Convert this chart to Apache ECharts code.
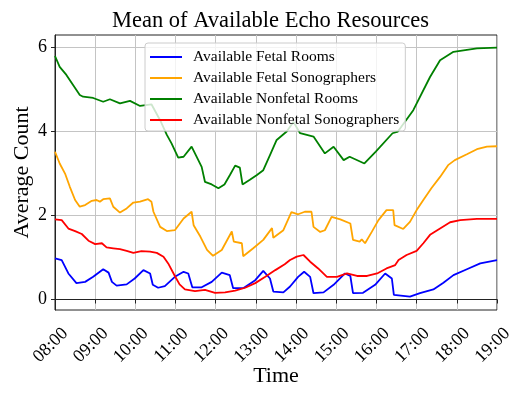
<!DOCTYPE html>
<html>
<head>
<meta charset="utf-8">
<script src="https://cdn.jsdelivr.net/npm/echarts@6/dist/echarts.min.js"></script>
<style>
  html, body { margin: 0; padding: 0; background: #fff; }
  #chart { width: 531px; height: 399px; }
</style>
</head>
<body>
<div id="chart"></div>
<script>
// minutes after 08:00
const hourTicks = [0, 60, 120, 180, 240, 300, 360, 420, 480, 540, 600, 660];
const yTicks = [0, 2, 4, 6];

const fetalRoomsTime = [0, 10, 20, 32, 45, 57, 72, 80, 85, 92, 107, 119, 132, 142, 146, 154, 164, 179, 192, 199, 205, 219, 234, 249, 261, 266, 281, 299, 311, 321, 326, 341, 351, 363, 372, 381, 386, 401, 416, 433, 441, 445, 460, 478, 493, 503, 506, 530, 545, 565, 580, 595, 615, 635, 660];
const fetalRooms = [0.98, 0.94, 0.62, 0.39, 0.42, 0.54, 0.72, 0.64, 0.42, 0.33, 0.36, 0.50, 0.70, 0.62, 0.35, 0.28, 0.32, 0.54, 0.66, 0.62, 0.29, 0.29, 0.42, 0.64, 0.58, 0.27, 0.27, 0.46, 0.68, 0.50, 0.19, 0.17, 0.31, 0.54, 0.66, 0.54, 0.15, 0.17, 0.35, 0.62, 0.56, 0.15, 0.16, 0.35, 0.62, 0.50, 0.11, 0.07, 0.15, 0.24, 0.40, 0.58, 0.72, 0.86, 0.94];

const fetalSonoTime = [0, 7, 15, 22, 30, 37, 45, 55, 62, 67, 72, 82, 87, 97, 107, 117, 127, 139, 144, 147, 157, 167, 179, 192, 204, 207, 217, 227, 236, 249, 264, 266, 267, 279, 281, 296, 311, 324, 326, 341, 353, 363, 373, 383, 386, 396, 403, 413, 426, 441, 445, 455, 458, 463, 473, 483, 495, 505, 507, 520, 530, 540, 550, 562, 575, 587, 597, 615, 630, 645, 660];
const fetalSono = [3.52, 3.24, 3.00, 2.69, 2.37, 2.21, 2.25, 2.35, 2.37, 2.33, 2.39, 2.41, 2.21, 2.07, 2.17, 2.31, 2.33, 2.39, 2.33, 2.09, 1.73, 1.63, 1.65, 1.93, 2.09, 1.77, 1.50, 1.18, 1.04, 1.18, 1.62, 1.66, 1.38, 1.34, 1.03, 1.22, 1.42, 1.70, 1.47, 1.65, 2.08, 2.03, 2.09, 2.09, 1.73, 1.61, 1.65, 1.97, 1.91, 1.81, 1.42, 1.38, 1.43, 1.34, 1.61, 1.89, 2.13, 2.13, 1.77, 1.68, 1.85, 2.13, 2.37, 2.65, 2.92, 3.20, 3.32, 3.46, 3.58, 3.64, 3.65];

const nonfetalRoomsTime = [0, 7, 17, 27, 37, 42, 57, 72, 82, 97, 112, 127, 144, 157, 167, 174, 184, 192, 204, 209, 219, 224, 234, 244, 253, 261, 269, 276, 280, 291, 301, 311, 321, 331, 346, 356, 366, 386, 403, 416, 431, 440, 462, 479, 504, 512, 535, 560, 575, 595, 630, 660];
const nonfetalRooms = [5.80, 5.54, 5.35, 5.11, 4.87, 4.83, 4.80, 4.71, 4.77, 4.67, 4.73, 4.61, 4.65, 4.27, 3.92, 3.72, 3.38, 3.40, 3.64, 3.48, 3.16, 2.80, 2.74, 2.65, 2.74, 2.96, 3.19, 3.14, 2.74, 2.85, 2.96, 3.08, 3.44, 3.80, 4.00, 4.23, 3.96, 3.88, 3.48, 3.64, 3.32, 3.40, 3.24, 3.52, 3.96, 4.00, 4.51, 5.30, 5.70, 5.90, 5.98, 6.00];

const nonfetalSonoTime = [0, 10, 20, 30, 40, 50, 60, 70, 77, 87, 97, 107, 117, 129, 142, 152, 162, 169, 179, 186, 194, 209, 224, 239, 254, 269, 284, 299, 314, 329, 343, 351, 361, 371, 381, 393, 406, 421, 436, 451, 466, 481, 495, 508, 513, 525, 540, 550, 560, 575, 590, 605, 630, 660];
const nonfetalSono = [1.91, 1.89, 1.69, 1.63, 1.56, 1.40, 1.32, 1.34, 1.24, 1.22, 1.20, 1.16, 1.11, 1.15, 1.14, 1.11, 1.02, 0.86, 0.56, 0.36, 0.24, 0.20, 0.23, 0.16, 0.17, 0.21, 0.28, 0.39, 0.54, 0.70, 0.84, 0.94, 1.02, 1.06, 0.90, 0.74, 0.54, 0.54, 0.62, 0.56, 0.56, 0.62, 0.74, 0.82, 0.94, 1.06, 1.16, 1.34, 1.54, 1.69, 1.84, 1.89, 1.92, 1.92];

const seriesNames = ["Available Fetal Rooms", "Available Fetal Sonographers", "Available Nonfetal Rooms", "Available Nonfetal Sonographers"];
const seriesColors = ["#0000ff", "#ffa500", "#008000", "#ff0000"];
const seriesTimes = [fetalRoomsTime, fetalSonoTime, nonfetalRoomsTime, nonfetalSonoTime];
const seriesValues = [fetalRooms, fetalSono, nonfetalRooms, nonfetalSono];

const font = "Liberation Serif";

function hourLabel(v) {
  const h = 8 + Math.round(v / 60);
  return (h < 10 ? "0" : "") + h + ":00";
}

const chart = echarts.init(document.getElementById("chart"));

const series = [];
for (let i = 0; i < seriesNames.length; i++) {
  series.push({
    name: seriesNames[i],
    type: "line",
    showSymbol: false,
    symbol: "none",
    color: seriesColors[i],
    lineStyle: { width: 1.8, color: seriesColors[i] },
    data: seriesTimes[i].map((t, j) => [t, seriesValues[i][j]]),
    z: 3
  });
}

chart.setOption({
  animation: false,
  title: {
    text: "Mean of Available Echo Resources",
    left: 112,
    top: 10,
    padding: 0,
    textStyle: { fontFamily: font, fontSize: 22.5, fontWeight: "normal", color: "#000" }
  },
  legend: {
    left: 145,
    top: 43,
    orient: "vertical",
    icon: "rect",
    itemWidth: 32,
    itemHeight: 2,
    itemGap: 5,
    padding: [6, 6, 3, 5],
    backgroundColor: "rgba(255,255,255,0.8)",
    borderColor: "#cccccc",
    borderWidth: 1,
    borderRadius: 3,
    textStyle: { fontFamily: font, fontSize: 15.5, color: "#000", lineHeight: 14, padding: [0, 0, 0, 6] },
    z: 10
  },
  grid: {
    left: 55, right: 34, top: 35, bottom: 89,
    show: true, borderColor: "#222", borderWidth: 1,
    containLabel: false
  },
  xAxis: {
    type: "value",
    min: 0,
    max: 660,
    interval: 60,
    name: "Time",
    nameLocation: "middle",
    nameGap: 55,
    nameMoveOverlap: false,
    nameTextStyle: { fontFamily: font, fontSize: 22, color: "#000" },
    axisLine: { show: true, lineStyle: { color: "#222", width: 1 } },
    axisTick: { show: true, inside: false, length: 4, lineStyle: { color: "#222" } },
    axisLabel: {
      rotate: 45,
      formatter: hourLabel,
      fontFamily: font,
      fontSize: 18,
      color: "#000",
      margin: 31,
      align: "center",
      verticalAlign: "middle",
      padding: [0, 12, 0, 0],
      showMinLabel: true,
      showMaxLabel: true
    },
    splitLine: { show: true, lineStyle: { color: "#c4c4c4", width: 1 } }
  },
  yAxis: {
    type: "value",
    min: -0.25,
    max: 6.3,
    name: "Average Count",
    nameLocation: "middle",
    nameGap: 22,
    nameMoveOverlap: false,
    nameTextStyle: { fontFamily: font, fontSize: 22, color: "#000" },
    axisLine: { show: true, lineStyle: { color: "#222", width: 1 } },
    axisTick: { show: true, inside: false, length: 4, lineStyle: { color: "#222" }, customValues: yTicks },
    axisLabel: { fontFamily: font, fontSize: 18, color: "#000", margin: 8, customValues: yTicks },
    splitLine: { show: true, lineStyle: { color: "#c4c4c4", width: 1 } }
  },
  series: series
});
</script>
</body>
</html>
